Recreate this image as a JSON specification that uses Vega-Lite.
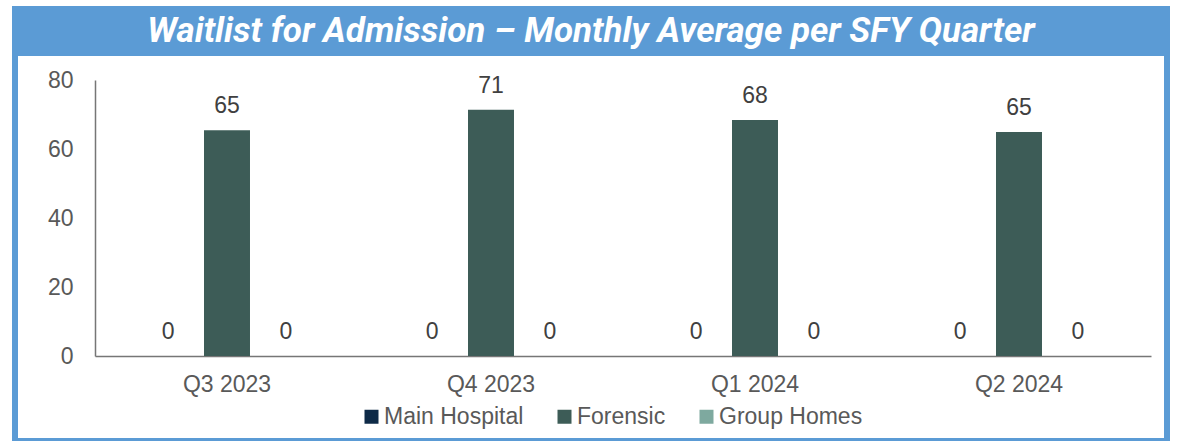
{
  "$schema": "https://vega.github.io/schema/vega-lite/v6.json",
  "autosize": {"type": "none"},
  "width": 1152,
  "height": 432,
  "padding": {"left": 15, "top": 9, "right": 12, "bottom": 0},
  "background": "white",
  "config": {
    "view": {"fill": "white", "stroke": "#5B9BD5", "strokeWidth": 6},
    "font": "Liberation Sans"
  },
  "title": {
    "text": "Waitlist for Admission  – Monthly Average per SFY Quarter",
    "color": "white",
    "font": "Roboto",
    "fontSize": 35,
    "fontWeight": "bold",
    "fontStyle": "italic",
    "anchor": "middle",
    "frame": "group",
    "baseline": "middle",
    "offset": -22,
    "dy": 35
  },
  "data": {
    "values": [
      {"quarter": "Q3 2023", "series": "Main Hospital", "value": 0},
      {"quarter": "Q3 2023", "series": "Forensic", "value": 65.4},
      {"quarter": "Q3 2023", "series": "Group Homes", "value": 0},
      {"quarter": "Q4 2023", "series": "Main Hospital", "value": 0},
      {"quarter": "Q4 2023", "series": "Forensic", "value": 71.4},
      {"quarter": "Q4 2023", "series": "Group Homes", "value": 0},
      {"quarter": "Q1 2024", "series": "Main Hospital", "value": 0},
      {"quarter": "Q1 2024", "series": "Forensic", "value": 68.4},
      {"quarter": "Q1 2024", "series": "Group Homes", "value": 0},
      {"quarter": "Q2 2024", "series": "Main Hospital", "value": 0},
      {"quarter": "Q2 2024", "series": "Forensic", "value": 64.9},
      {"quarter": "Q2 2024", "series": "Group Homes", "value": 0}
    ]
  },
  "layer": [
    {
      "mark": {"type": "rect", "color": "#5B9BD5"},
      "encoding": {
        "y": {"datum": 100.6, "type": "quantitative", "scale": {"domain": [0, 80], "range": [347, 71], "nice": false}},
        "y2": {"datum": 86.96}
      }
    },
    {
      "mark": {"type": "bar"},
      "encoding": {
        "x": {"field": "quarter", "type": "nominal", "sort": ["Q3 2023", "Q4 2023", "Q1 2024", "Q2 2024"],
              "scale": {"range": [80, 1136], "paddingInner": 0.33, "paddingOuter": 0.165},
              "axis": {"title": null, "labelAngle": 0, "ticks": false, "tickSize": 0, "labelPadding": 17, "offset": -85,
                       "domainColor": "#767676", "domainWidth": 1.5, "labelColor": "#595959", "labelFontSize": 23, "grid": false}},
        "xOffset": {"field": "series", "type": "nominal", "sort": ["Main Hospital", "Forensic", "Group Homes"],
                    "scale": {"paddingInner": 0.22, "paddingOuter": 0.11}},
        "y": {"field": "value", "type": "quantitative",
              "axis": {"title": null, "values": [0, 20, 40, 60, 80], "grid": false, "ticks": false, "tickSize": 0,
                       "labelPadding": 22, "offset": -80, "domainColor": "#767676", "domainWidth": 1.5,
                       "labelColor": "#595959", "labelFontSize": 23}},
        "color": {"field": "series", "type": "nominal",
                  "scale": {"domain": ["Main Hospital", "Forensic", "Group Homes"], "range": ["#0E2A47", "#3D5C57", "#7EA99F"]},
                  "legend": {"title": null, "orient": "none", "legendX": 345, "legendY": 396, "direction": "horizontal",
                             "symbolType": "square", "symbolSize": 196, "symbolStrokeWidth": 0, "symbolOpacity": 1,
                             "labelFontSize": 23, "labelColor": "#595959", "labelOffset": 1, "columnPadding": 29, "padding": 0}}
      }
    },
    {
      "mark": {"type": "text", "dy": -17, "baseline": "alphabetic", "fontSize": 23, "color": "#404040"},
      "encoding": {
        "x": {"field": "quarter", "type": "nominal", "sort": ["Q3 2023", "Q4 2023", "Q1 2024", "Q2 2024"]},
        "xOffset": {"field": "series", "type": "nominal", "sort": ["Main Hospital", "Forensic", "Group Homes"]},
        "y": {"field": "value", "type": "quantitative"},
        "text": {"field": "value", "type": "quantitative", "format": ".0f"}
      }
    }
  ]
}
